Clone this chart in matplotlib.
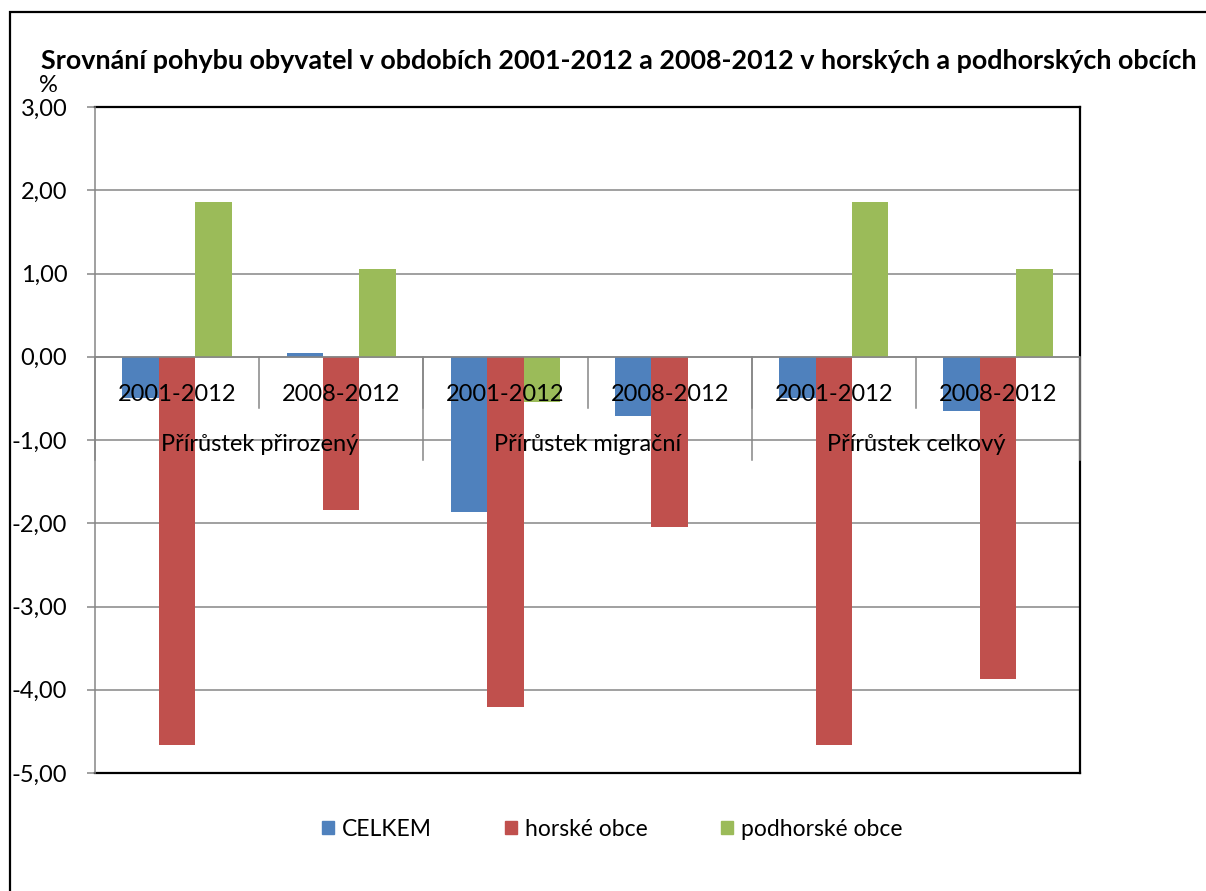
import matplotlib
matplotlib.use("Agg")
import matplotlib.pyplot as plt
from matplotlib.patches import Patch, Rectangle
import numpy as np

plt.rcParams['font.family'] = ['Lato', 'DejaVu Sans']

# data
periods = ["2001-2012", "2008-2012", "2001-2012", "2008-2012", "2001-2012", "2008-2012"]
groups = ["Přírůstek přirozený", "Přírůstek migrační", "Přírůstek celkový"]
series_names = ["CELKEM", "horské obce", "podhorské obce"]
celkem = [-0.50, 0.05, -1.86, -0.71, -0.50, -0.65]
horske = [-4.66, -1.84, -4.21, -2.04, -4.66, -3.87]
podhorske = [1.86, 1.06, -0.54, 0.00, 1.86, 1.06]
colors = ["#4F81BD", "#C0504D", "#9BBB59"]
yticks = [3, 2, 1, 0, -1, -2, -3, -4, -5]

W, H = 1206, 891
fig = plt.figure(figsize=(W / 100, H / 100), dpi=100)
ax = fig.add_axes([95 / W, 1 - 773 / H, (1080 - 95) / W, (773 - 107) / H])

x = np.arange(len(periods))
bw = 0.222
for i, vals in enumerate([celkem, horske, podhorske]):
    ax.bar(x + (i - 1) * bw, vals, width=bw, color=colors[i], zorder=3)

ax.set_xlim(-0.5, len(periods) - 0.5)
ax.set_ylim(-5, 3)
ax.set_yticks(yticks)
ax.set_yticklabels([f"{v:.2f}".replace(".", ",") for v in yticks])
ax.set_xticks([])
ax.yaxis.grid(True, color="#868686", linewidth=1.1, zorder=0)
ax.tick_params(axis="y", length=6, width=1.1, color="#868686", labelsize=17, pad=14)
for s in ["top", "right", "bottom"]:
    ax.spines[s].set_color("black")
    ax.spines[s].set_linewidth(1.6)
ax.spines["left"].set_color("#868686")
ax.spines["left"].set_linewidth(1.1)
ax.spines["left"].set_zorder(4)

# category axis at zero with two label levels
ax.axhline(0, color="#868686", linewidth=1.1, zorder=4)
y_lvl1, y_lvl2 = -0.613, -1.237
for b in np.arange(0.5, len(periods) - 1, 1):
    ax.plot([b, b], [0, y_lvl1], color="#868686", linewidth=1.1, zorder=4, clip_on=False)
for b in [-0.5, 1.5, 3.5, 5.5]:
    ax.plot([b, b], [0, y_lvl2], color="#868686", linewidth=1.1, zorder=4, clip_on=False)
for xi, p in zip(x, periods):
    ax.text(xi, -0.45, p, ha="center", va="center", fontsize=17, zorder=5)
for gi, g in enumerate(groups):
    ax.text(2 * gi + 0.5, -1.05, g, ha="center", va="center", fontsize=17, zorder=5)

fig.text(619 / W, 1 - 61 / H, "Srovnání pohybu obyvatel v obdobích 2001-2012 a 2008-2012 v horských a podhorských obcích",
         ha="center", va="center", fontsize=19.4, fontweight="bold")
fig.text(48 / W, 1 - 85 / H, "%", ha="center", va="center", fontsize=17)

handles = [Patch(color=c) for c in colors]
fig.legend(handles, series_names, loc="center", bbox_to_anchor=(612 / W, 1 - 829 / H), ncol=3,
           frameon=False, fontsize=16.5, handlelength=0.52, handleheight=0.52,
           handletextpad=0.35, columnspacing=3.2)

# outer chart frame
fig.patches.append(Rectangle((10 / W, -0.1), 1.2, 1.1 - 12 / H, transform=fig.transFigure,
                             fill=False, edgecolor="black", linewidth=1.6))

fig.savefig("out.png", dpi=100)
